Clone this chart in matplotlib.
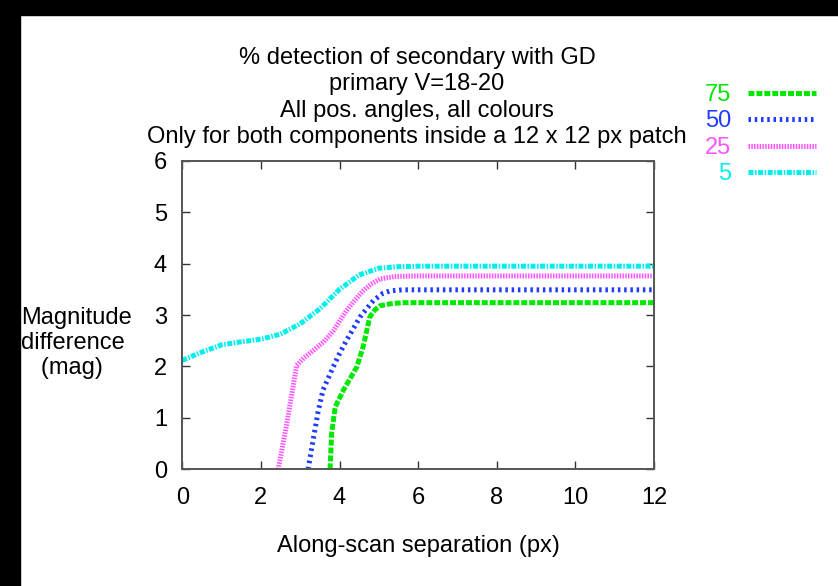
import matplotlib
matplotlib.use("Agg")
import matplotlib.pyplot as plt
from matplotlib.patches import Rectangle

plt.rcParams['font.family'] = ['Liberation Sans', 'DejaVu Sans']
plt.rcParams['font.size'] = 17
plt.rcParams['lines.scale_dashes'] = False

# detection curves, one per detection percentage
sep_75 = [3.76, 3.80, 3.89, 4.10, 4.44, 4.60, 4.77, 4.90, 5.03, 5.30, 5.60, 6.00, 12.0]
mag_75 = [0.00, 0.70, 1.21, 1.54, 1.99, 2.38, 2.96, 3.10, 3.18, 3.22, 3.24, 3.24, 3.24]

sep_50 = [3.20, 3.33, 3.45, 3.58, 3.84, 4.00, 4.18, 4.52, 4.86, 5.10, 5.29, 5.60, 6.00, 12.0]
mag_50 = [0.00, 0.57, 1.10, 1.54, 1.99, 2.25, 2.51, 2.96, 3.28, 3.42, 3.47, 3.49, 3.49, 3.49]

sep_25 = [2.44, 2.65, 2.91, 3.10, 3.33, 3.60, 3.84, 4.00, 4.18, 4.40, 4.60, 4.80, 5.03, 5.40, 6.00, 12.0]
mag_25 = [0.00, 0.85, 2.02, 2.17, 2.31, 2.48, 2.69, 2.88, 3.09, 3.30, 3.47, 3.60, 3.70, 3.75, 3.76, 3.76]

sep_5 = [0.0, 0.5, 1.0, 1.5, 2.0, 2.5, 3.0, 3.5, 4.0, 4.5, 5.0, 5.5, 6.0, 12.0]
mag_5 = [2.12, 2.28, 2.42, 2.48, 2.53, 2.63, 2.83, 3.12, 3.50, 3.78, 3.91, 3.94, 3.95, 3.95]

labels = ['75', '50', '25', '5']
colors = ['#00e800', '#1f3cff', '#ff55ff', '#00eeee']
dashes = [(4.3, 1.4), (1.8, 2.7), (1.1, 0.9), (3.6, 1.1, 1.1, 1.1)]

x_ticks = [0, 2, 4, 6, 8, 10, 12]
y_ticks = [0, 1, 2, 3, 4, 5, 6]

fig = plt.figure(figsize=(8.38, 5.86), dpi=100)
ax = fig.add_axes([0.2175, 0.1991, 0.5629, 0.5266])

curves = [(sep_75, mag_75), (sep_50, mag_50), (sep_25, mag_25), (sep_5, mag_5)]
for (xs, ys), lab, c, d in zip(curves, labels, colors, dashes):
    ax.plot(xs, ys, color=c, lw=3.6, dashes=d, dash_capstyle='butt',
            solid_capstyle='butt', label=lab)

ax.set_xlim(0, 12)
ax.set_ylim(0, 6)
ax.set_xticks(x_ticks)
ax.set_yticks(y_ticks)
ax.tick_params(direction='in', length=5.8, width=1, color='#333333',
               top=True, right=True, labelsize=17)
ax.tick_params(axis='y', pad=11)
ax.tick_params(axis='x', pad=12.5)
for sp in ax.spines.values():
    sp.set_color('#555555')
    sp.set_linewidth(1.4)

ax.set_xlabel('Along-scan separation (px)', labelpad=19)
fig.text(20.7 / 838, 1 - 343 / 586, 'Magnitude\ndifference\n   (mag)',
         ha='left', va='center', multialignment='left', linespacing=1.15)

fig.text(417 / 838, 1 - 47 / 586,
         '% detection of secondary with GD\nprimary V=18-20\n'
         'All pos. angles, all colours\n'
         'Only for both components inside a 12 x 12 px patch',
         ha='center', va='top', multialignment='center', linespacing=1.25)

leg = ax.legend(loc='upper right', bbox_to_anchor=(816 / 838, 1 - 84 / 586),
                bbox_transform=fig.transFigure, frameon=False, markerfirst=False,
                handlelength=2.9, handletextpad=0.7, labelspacing=0.19,
                borderpad=0, borderaxespad=0)
for t, c in zip(leg.get_texts(), colors):
    t.set_color(c)

# dark bands along the left and top edges
fig.patches.append(Rectangle((0, 0), 20 / 838, 1, transform=fig.transFigure,
                             color='black', zorder=10))
fig.patches.append(Rectangle((0, 1 - 15 / 586), 1, 15 / 586,
                             transform=fig.transFigure, color='black', zorder=10))

fig.savefig('out.png', dpi=100)
